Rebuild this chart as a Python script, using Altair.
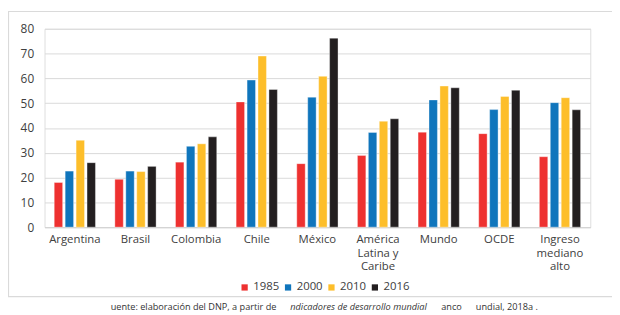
import altair as alt
import pandas as pd

categories = ["Argentina", "Brasil", "Colombia", "Chile", "México",
              "América\nLatina y\nCaribe", "Mundo", "OCDE", "Ingreso\nmediano\nalto"]
years = ["1985", "2000", "2010", "2016"]
v1985 = [18.0, 19.3, 26.2, 50.5, 25.6, 28.9, 38.3, 37.7, 28.4]
v2000 = [22.6, 22.6, 32.6, 59.3, 52.4, 38.2, 51.3, 47.4, 50.2]
v2010 = [35.0, 22.4, 33.6, 69.0, 60.8, 42.7, 56.9, 52.7, 52.2]
v2016 = [26.0, 24.5, 36.4, 55.5, 76.2, 43.7, 56.2, 55.2, 47.3]
colors = ["#EE3130", "#0F75BC", "#FDBE2A", "#231F20"]
y_ticks = [0, 10, 20, 30, 40, 50, 60, 70, 80]

rows = []
for yr, vals in zip(years, [v1985, v2000, v2010, v2016]):
    for c, v in zip(categories, vals):
        rows.append({"pais": c, "anio": yr, "valor": v})
df = pd.DataFrame(rows)

W, H = 553, 201

bars = alt.Chart(df).mark_bar(stroke="white", strokeWidth=0.6, strokeOpacity=0.6).encode(
    x=alt.X("pais:N", sort=categories, title=None,
            scale=alt.Scale(paddingInner=0.32, paddingOuter=0.16),
            axis=alt.Axis(labelExpr="split(datum.label, '\\n')", labelAngle=0,
                          labelPadding=7, labelLineHeight=13.5, ticks=False,
                          domain=True, domainColor="#d4d4d4", domainWidth=1.5,
                          labelFontSize=11.5, labelColor="#404040", labelFont="Open Sans")),
    xOffset=alt.XOffset("anio:N", sort=years, scale=alt.Scale(paddingInner=0.23)),
    y=alt.Y("valor:Q", title=None,
            scale=alt.Scale(domain=[0, 80], nice=False),
            axis=alt.Axis(values=y_ticks, grid=True, gridColor="#d9d9d9", domain=False,
                          ticks=False, labelPadding=11, labelFontSize=12,
                          labelColor="#404040", labelFont="Open Sans")),
    color=alt.Color("anio:N", sort=years,
                    scale=alt.Scale(domain=years, range=colors),
                    legend=alt.Legend(title=None, orient="none", direction="horizontal",
                                      legendX=197, legendY=256, symbolType="square",
                                      symbolSize=40, symbolStrokeWidth=0,
                                      labelFontSize=11.5, labelColor="#404040",
                                      labelFont="Open Sans", labelOffset=3,
                                      columnPadding=3)),
)

box = alt.Chart(alt.Data(values=[{"a": 1}])).mark_rect(
    fill=None, stroke="#dadada", strokeWidth=1.2
).encode(x=alt.value(-36.5), x2=alt.value(620), y=alt.value(-17.5), y2=alt.value(271.5))

foot_parts = ["uente: elaboración del DNP, a partir de", "ndicadores de desarrollo mundial",
              "anco", "undial, 2018a ."]
foot_x = [67, 249, 402, 437]
foot_style = ["normal", "italic", "normal", "normal"]

footer_layers = []
for t, fx, st in zip(foot_parts, foot_x, foot_style):
    footer_layers.append(
        alt.Chart(alt.Data(values=[{"t": t}])).mark_text(
            align="left", baseline="middle", fontSize=9.3, font="Open Sans",
            fontStyle=st, color="#333333"
        ).encode(text="t:N", x=alt.value(fx), y=alt.value(282))
    )

chart = alt.layer(box, bars, *footer_layers).properties(
    width=W, height=H,
    padding={"left": 37, "top": 19, "right": 22, "bottom": 87},
    autosize=alt.AutoSizeParams(type="none"),
).configure_view(stroke=None).configure(background="white")

chart.save("out.html", embed_options={"renderer": "svg", "actions": False})
